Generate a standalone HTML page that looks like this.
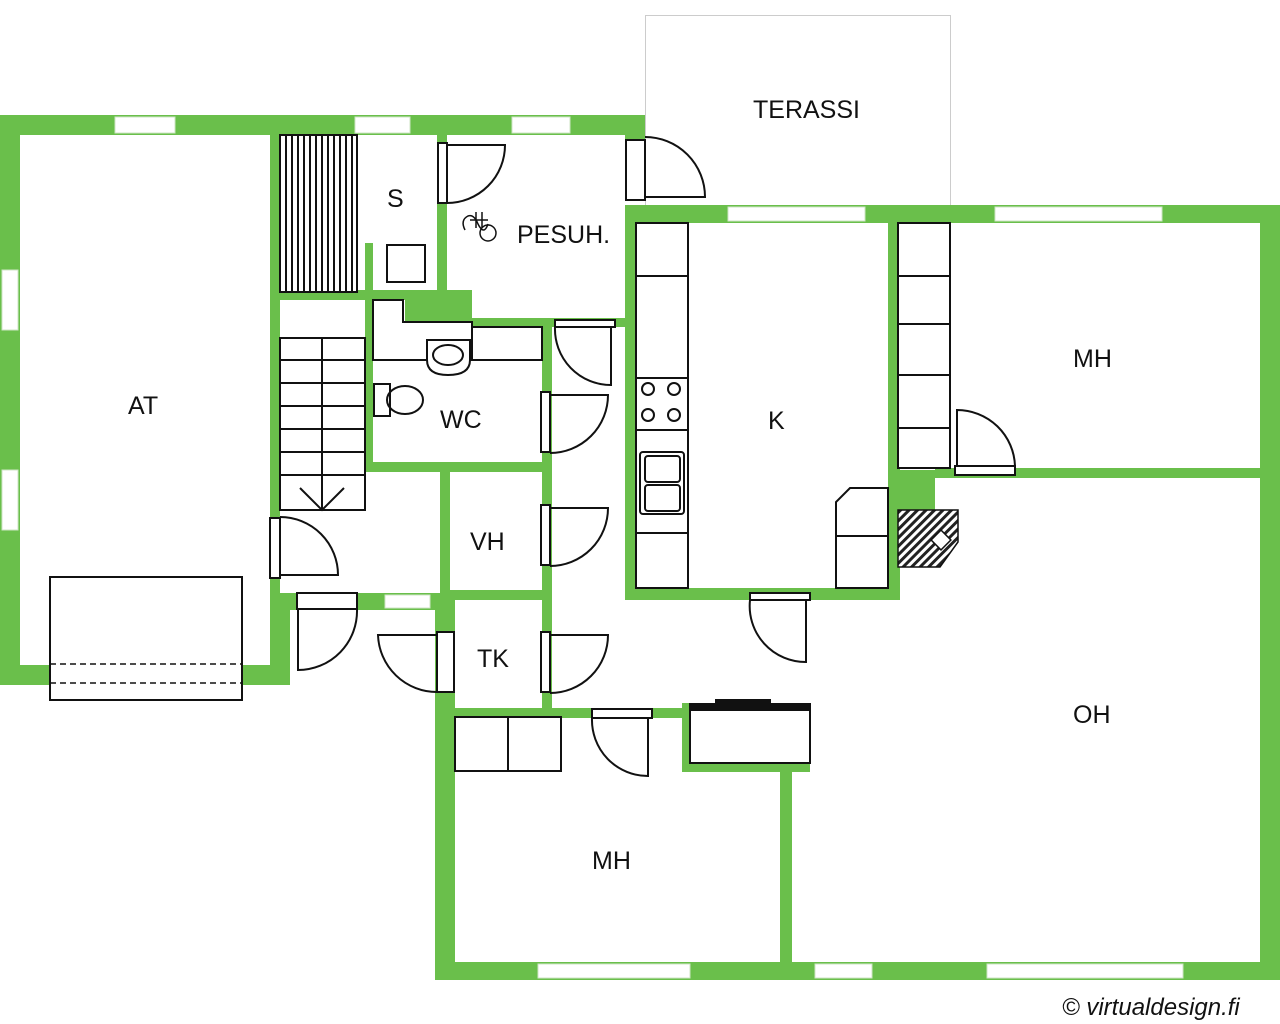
<!DOCTYPE html>
<html><head><meta charset="utf-8"><style>
html,body{margin:0;padding:0;background:#fff;width:1280px;height:1024px;overflow:hidden}
svg{display:block}
text{font-family:"Liberation Sans",sans-serif;font-size:25px;fill:#111}
</style></head><body>
<svg width="1280" height="1024" viewBox="0 0 1280 1024" xmlns="http://www.w3.org/2000/svg">
<defs>
<pattern id="h" width="6" height="6" patternUnits="userSpaceOnUse" patternTransform="rotate(45)"><rect width="6" height="6" fill="#fff"/><rect width="3" height="6" fill="#222"/></pattern>
</defs>
<rect x="645.5" y="15.5" width="305" height="190" fill="none" stroke="#ccc" stroke-width="1"/>
<g fill="#6abf4b">
<rect x="0" y="115" width="645" height="20"/>
<rect x="0" y="115" width="20" height="570"/>
<rect x="0" y="665" width="50" height="20"/>
<rect x="242" y="665" width="48" height="20"/>
<rect x="270" y="135" width="10" height="460"/>
<rect x="270" y="595" width="20" height="90"/>
<rect x="625" y="115" width="20" height="25"/>
<rect x="625" y="205" width="655" height="18"/>
<rect x="1260" y="205" width="20" height="775"/>
<rect x="435" y="962" width="845" height="18"/>
<rect x="435" y="685" width="20" height="295"/>
<rect x="435" y="600" width="20" height="90"/>
<rect x="780" y="765" width="12" height="200"/>
<rect x="435" y="708" width="255" height="10"/>
<rect x="682" y="703" width="128" height="69"/>
<rect x="625" y="205" width="11" height="395"/>
<rect x="625" y="588" width="275" height="12"/>
<rect x="888" y="222" width="12" height="378"/>
<rect x="888" y="470" width="47" height="42"/>
<rect x="935" y="468" width="325" height="10"/>
<rect x="437" y="135" width="10" height="165"/>
<rect x="365" y="243" width="8" height="60"/>
<rect x="280" y="290" width="167" height="10"/>
<rect x="405" y="290" width="67" height="45"/>
<rect x="472" y="318" width="163" height="9"/>
<rect x="625" y="205" width="10" height="122"/>
<rect x="365" y="300" width="8" height="172"/>
<rect x="365" y="462" width="187" height="10"/>
<rect x="542" y="318" width="10" height="397"/>
<rect x="440" y="472" width="10" height="128"/>
<rect x="440" y="590" width="112" height="10"/>
<rect x="280" y="593" width="160" height="17"/>
<rect x="455" y="590" width="97" height="10"/>
</g>
<g fill="#fff" stroke="#cfe6c5" stroke-width="1">
<rect x="115" y="117" width="60" height="16"/>
<rect x="355" y="117" width="55" height="16"/>
<rect x="512" y="117" width="58" height="16"/>
<rect x="2" y="270" width="16" height="60"/>
<rect x="2" y="470" width="16" height="60"/>
<rect x="728" y="207" width="137" height="14"/>
<rect x="995" y="207" width="167" height="14"/>
<rect x="538" y="964" width="152" height="14"/>
<rect x="815" y="964" width="57" height="14"/>
<rect x="987" y="964" width="196" height="14"/>
<rect x="385" y="595" width="45" height="13"/>
</g>
<g fill="none" stroke="#111" stroke-width="2">
<rect x="280" y="135" width="77" height="157" fill="#fff"/>
<path d="M286 135V292M292 135V292M298 135V292M304 135V292M310 135V292M316 135V292M322 135V292M328 135V292M334 135V292M340 135V292M346 135V292M352 135V292"/>
<rect x="387" y="245" width="38" height="37"/>
<rect x="280" y="338" width="85" height="172"/>
<path d="M322 338V510M280 360H365M280 383H365M280 406H365M280 429H365M280 452H365M280 475H365M300 488L322 510L344 488"/>
<rect x="50" y="577" width="192" height="123" fill="#fff"/>
<path d="M50 664H242M50 683H242" stroke-dasharray="6,4" stroke-width="1.5"/>
<path d="M373 300H403V322H472V360H373Z" fill="#fff"/>
<rect x="472" y="327" width="70" height="33" fill="#fff"/>
<path d="M427 340H470V360Q470 375 448 375Q427 375 427 360Z" fill="#fff"/>
<ellipse cx="448" cy="355" rx="15" ry="10"/>
<rect x="374" y="384" width="16" height="32" fill="#fff"/>
<ellipse cx="405" cy="400" rx="18" ry="14"/>
<path d="M476 212V228M482 212V228M470 220H488M465 230Q460 220 468 216Q474 214 478 224Q484 236 488 224" stroke-width="1.5"/>
<circle cx="488" cy="233" r="8" stroke-width="1.5"/>
<rect x="636" y="223" width="52" height="365" fill="#fff"/>
<path d="M636 276H688M636 378H688M636 430H688M636 533H688"/>
<circle cx="648" cy="389" r="6"/><circle cx="674" cy="389" r="6"/>
<circle cx="648" cy="415" r="6"/><circle cx="674" cy="415" r="6"/>
<rect x="640" y="452" width="44" height="62" rx="3"/>
<rect x="645" y="456" width="35" height="26" rx="3"/>
<rect x="645" y="485" width="35" height="26" rx="3"/>
<rect x="898" y="223" width="52" height="245" fill="#fff"/>
<path d="M898 276H950M898 324H950M898 375H950M898 428H950"/>
<path d="M850 488H888V588H836V502Z" fill="#fff"/>
<path d="M836 536H888"/>
<path d="M898 510H958V542L940 567H898Z" fill="url(#h)" stroke-width="1.5"/>
<rect x="934" y="533" width="14" height="14" transform="rotate(45 941 540)" fill="#fff" stroke-width="1.5"/>
<rect x="455" y="717" width="106" height="54" fill="#fff"/>
<path d="M508 717V771"/>
<rect x="690" y="710" width="120" height="53" fill="#fff"/>
<rect x="690" y="704" width="120" height="4" fill="#111"/>
<rect x="716" y="700" width="54" height="4" fill="#111"/>
</g>
<g fill="#fff" stroke="#111" stroke-width="2">
<rect x="438" y="143" width="9" height="60"/><path d="M447 145H505A58 58 0 0 1 447 203" fill="none"/>
<rect x="626" y="140" width="19" height="60"/><path d="M645 197H705A60 60 0 0 0 645 137" fill="none"/>
<rect x="555" y="320" width="60" height="7"/><path d="M611 327V385A56 56 0 0 1 555 327" fill="none"/>
<rect x="541" y="392" width="9" height="60"/><path d="M550 395H608A58 58 0 0 1 550 453" fill="none"/>
<rect x="541" y="505" width="9" height="60"/><path d="M550 508H608A58 58 0 0 1 550 566" fill="none"/>
<rect x="541" y="632" width="9" height="60"/><path d="M550 635H608A58 58 0 0 1 550 693" fill="none"/>
<rect x="437" y="632" width="17" height="60"/><path d="M437 635H378A59 59 0 0 0 437 692" fill="none"/>
<rect x="270" y="518" width="10" height="60"/><path d="M280 575H338A58 58 0 0 0 280 517" fill="none"/>
<rect x="297" y="593" width="60" height="16"/><path d="M298 609V670A59 59 0 0 0 357 609" fill="none"/>
<rect x="750" y="593" width="60" height="7"/><path d="M806 600V662A56 56 0 0 1 750 600" fill="none"/>
<rect x="592" y="709" width="60" height="9"/><path d="M648 718V776A56 56 0 0 1 592 718" fill="none"/>
<rect x="955" y="466" width="60" height="9"/><path d="M957 466V410A58 58 0 0 1 1015 466" fill="none"/>
</g>
<text x="128" y="414">AT</text>
<text x="387" y="207">S</text>
<text x="517" y="243">PESUH.</text>
<text x="440" y="428">WC</text>
<text x="470" y="550">VH</text>
<text x="477" y="667">TK</text>
<text x="768" y="429">K</text>
<text x="753" y="118">TERASSI</text>
<text x="1073" y="367">MH</text>
<text x="1073" y="723">OH</text>
<text x="592" y="869">MH</text>
<text x="1062" y="1015" style="font-style:italic;font-size:24px">© virtualdesign.fi</text>
</svg>
</body></html>
